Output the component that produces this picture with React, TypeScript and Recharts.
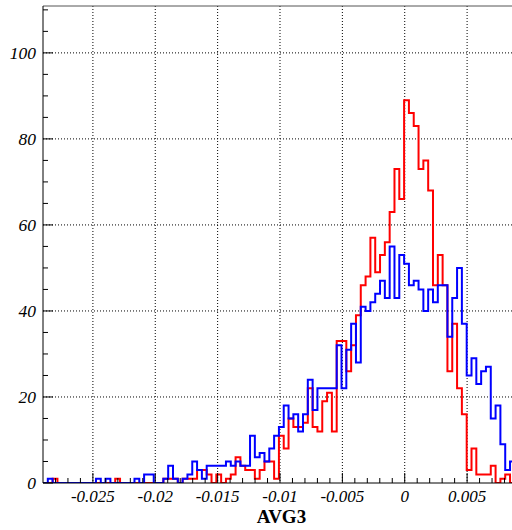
import React from "react";
import { LineChart, Line, XAxis, YAxis, CartesianGrid, ReferenceLine } from "recharts";

// histogram binning: 100 bins starting at -0.029
const BIN_START = -0.029;
const BIN_WIDTH = 0.000386;

// counts per bin (bins 0..97, the rest fall outside the frame)
const redCounts = [
  0, 0, 1, 0, 0, 0, 0, 0, 0, 0,
  0, 0, 0, 0, 0, 1, 0, 0, 0, 0,
  0, 0, 0, 0, 0, 1, 1, 1, 0, 1,
  1, 1, 3, 3, 2, 0, 2, 0, 1, 2,
  6, 4, 3, 3, 1, 3, 5, 5, 1, 11,
  8, 15, 13, 13, 14, 22, 13, 12, 19, 21,
  12, 33, 33, 26, 32, 39, 46, 48, 57, 49,
  53, 56, 63, 73, 66, 89, 86, 83, 73, 75,
  68, 46, 53, 46, 26, 37, 22, 16, 3, 8,
  2, 2, 2, 4, 0, 1, 2, 0,
];

const blueCounts = [
  0, 1, 0, 0, 0, 0, 0, 0, 0, 0,
  0, 1, 0, 1, 0, 0, 0, 0, 0, 1,
  0, 2, 2, 0, 0, 1, 4, 1, 0, 1,
  2, 5, 3, 1, 4, 4, 4, 4, 5, 4,
  5, 4, 4, 11, 6, 7, 5, 8, 11, 13,
  18, 15, 16, 12, 16, 24, 17, 22, 22, 22,
  22, 32, 22, 31, 37, 28, 41, 40, 42, 44,
  47, 43, 55, 43, 53, 51, 46, 47, 45, 40,
  45, 42, 46, 46, 34, 43, 50, 37, 25, 29,
  23, 26, 27, 15, 18, 9, 3, 5,
];

const xMajor = [-0.025, -0.02, -0.015, -0.01, -0.005, 0, 0.005];
const xMinor = [
  -0.028, -0.027, -0.026, -0.025, -0.024, -0.023, -0.022, -0.021, -0.02, -0.019,
  -0.018, -0.017, -0.016, -0.015, -0.014, -0.013, -0.012, -0.011, -0.01, -0.009,
  -0.008, -0.007, -0.006, -0.005, -0.004, -0.003, -0.002, -0.001, 0, 0.001,
  0.002, 0.003, 0.004, 0.005, 0.006, 0.007, 0.008,
];
const yMajor = [0, 20, 40, 60, 80, 100];
const yMinor = [0, 5, 10, 15, 20, 25, 30, 35, 40, 45, 50, 55, 60, 65, 70, 75, 80, 85, 90, 95, 100, 105, 110];

const X_DOMAIN: [number, number] = [-0.029, 0.0086];
const Y_MAX = 110.9;

const FONT = "'Liberation Serif', 'Times New Roman', serif";
const X_GAP = 6;
const Y_GAP = 7;

// step outline: one point per bin edge, last value repeated at the closing edge
const rows = redCounts.map((r, i) => ({
  x: BIN_START + i * BIN_WIDTH,
  red: r,
  blue: blueCounts[i],
}));
rows.push({
  x: BIN_START + redCounts.length * BIN_WIDTH,
  red: redCounts[redCounts.length - 1],
  blue: blueCounts[blueCounts.length - 1],
});

function XTick(props: any) {
  const { x, y, payload } = props;
  const label = xMajor.find((m) => Math.abs(m - payload.value) < 1e-9);
  const axisY = y - X_GAP;
  return (
    <g>
      <line x1={x} x2={x} y1={axisY} y2={axisY - (label !== undefined ? 10 : 5)} stroke="#000" />
      {label !== undefined && (
        <text x={x} y={y} dy={13} textAnchor="middle" fontFamily={FONT} fontStyle="italic" fontSize={17} fill="#000">
          {String(label)}
        </text>
      )}
    </g>
  );
}

function YTick(props: any) {
  const { x, y, payload } = props;
  const v = payload.value;
  const major = yMajor.includes(v);
  const axisX = x + Y_GAP;
  return (
    <g>
      <line x1={axisX} x2={axisX + (v % 20 === 0 ? 10 : 5)} y1={y} y2={y} stroke="#000" />
      {major && (
        <text x={x} y={y} dy={6} textAnchor="end" fontFamily={FONT} fontStyle="italic" fontSize={17.5} fill="#000">
          {v}
        </text>
      )}
    </g>
  );
}

export default function App() {
  return (
    <div style={{ position: "absolute", left: 0, top: 0, background: "#fff" }}>
      <LineChart width={512} height={530} data={rows} margin={{ top: 6, right: 0, bottom: 0, left: 0 }}>
        <CartesianGrid
          stroke="#000"
          strokeDasharray="1 2"
          horizontalValues={[20, 40, 60, 80, 100]}
          verticalValues={xMajor}
        />
        <XAxis
          dataKey="x"
          type="number"
          domain={X_DOMAIN}
          allowDataOverflow
          ticks={xMinor}
          interval={0}
          tickSize={0}
          tickMargin={X_GAP}
          tick={<XTick />}
          height={47}
          axisLine={{ stroke: "#000" }}
          label={{
            value: "AVG3",
            position: "insideBottom",
            offset: 7,
            dx: 4,
            fill: "#000",
            fontSize: 19,
            fontWeight: "bold",
            fontFamily: FONT,
          }}
        />
        <YAxis
          type="number"
          domain={[0, Y_MAX]}
          allowDataOverflow
          ticks={yMinor}
          interval={0}
          tickSize={0}
          tickMargin={Y_GAP}
          tick={<YTick />}
          width={43}
          axisLine={{ stroke: "#000" }}
        />
        <ReferenceLine y={Y_MAX} stroke="#555" />
        <Line
          type="stepAfter"
          dataKey="red"
          stroke="#ff0000"
          strokeWidth={2}
          dot={false}
          activeDot={false}
          isAnimationActive={false}
        />
        <Line
          type="stepAfter"
          dataKey="blue"
          stroke="#0000ff"
          strokeWidth={2}
          dot={false}
          activeDot={false}
          isAnimationActive={false}
        />
      </LineChart>
    </div>
  );
}
